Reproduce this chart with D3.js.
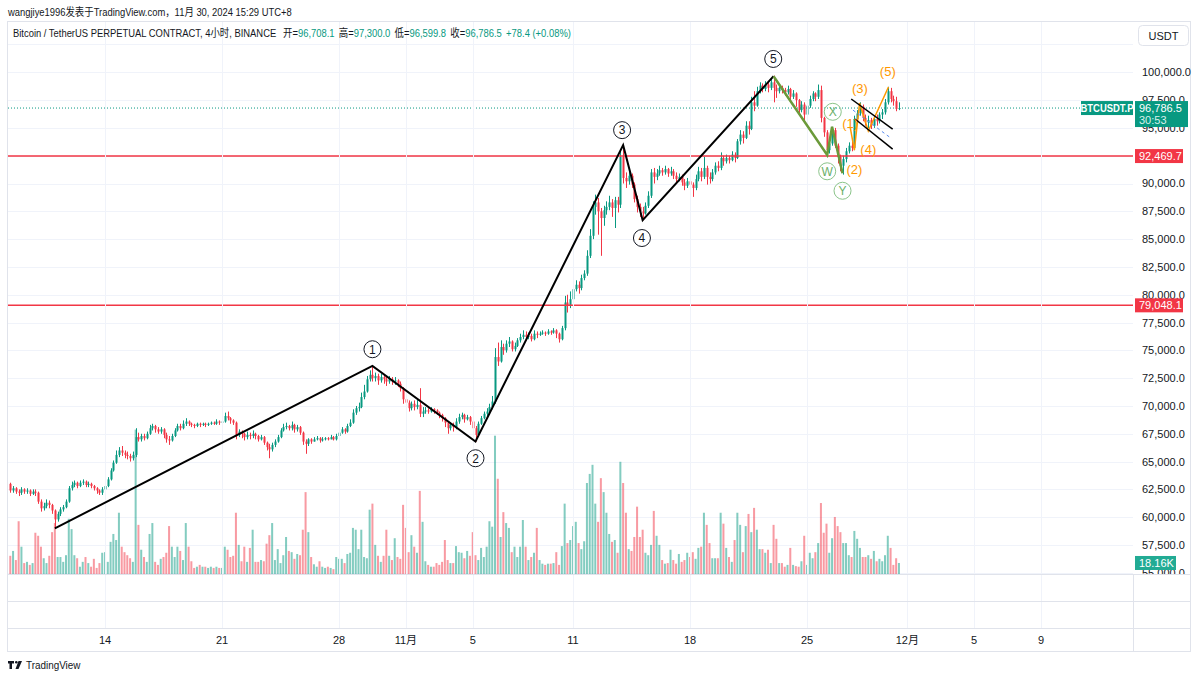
<!DOCTYPE html>
<html><head><meta charset="utf-8">
<script src="https://cdn.jsdelivr.net/npm/d3@7"></script>
<style>
html,body{margin:0;padding:0;background:#fff;}
svg{display:block;font-family:"Liberation Sans","Noto Sans CJK SC",Arial,sans-serif;}
</style></head>
<body><svg id="c" width="1200" height="679"></svg>
<script>
// ---------- DATA (prices in thousands USDT, 4h candles, UTC+8) ----------
const firstOpen = 63.0;
const closes = [
62.4,62.6,62.3,62.2,
62.5,62.3,62.4,62.1,62.3,62.2,
61.4,60.8,61.0,61.3,61.1,60.6,
59.8,60.3,60.7,60.9,61.4,62.6,
62.9,63.1,62.8,63.1,63.2,62.9,
63.0,62.8,62.6,62.4,62.2,62.5,
62.8,63.4,64.2,64.9,65.6,66.0,
65.8,65.6,65.5,65.3,65.6,67.2,
67.0,67.3,67.1,67.5,68.0,68.2,
67.9,67.7,67.9,67.4,67.0,66.9,
67.3,67.8,68.2,68.0,68.4,68.6,
68.4,68.3,68.2,68.4,68.3,68.4,
68.3,68.4,68.5,68.4,68.6,68.5,
68.6,69.1,68.9,68.7,68.5,67.4,
67.7,67.5,67.2,67.4,67.3,67.5,
67.3,67.0,67.2,66.7,66.3,66.1,
66.5,66.8,67.2,67.8,68.1,68.2,
68.0,68.3,67.9,68.1,67.6,66.8,
66.6,67.0,66.8,67.0,67.1,66.9,
67.0,67.1,67.0,67.2,67.0,67.3,
67.6,67.9,67.7,68.2,68.5,69.4,
69.8,69.9,70.8,71.3,72.4,72.8,
72.5,72.7,72.3,72.6,72.4,72.2,
72.4,72.2,72.3,72.0,71.6,70.6,
70.3,69.8,70.2,69.9,70.1,69.3,
69.5,69.6,69.5,69.7,69.6,69.4,
69.2,68.9,68.5,68.0,68.3,68.1,
68.6,69.0,69.2,68.8,69.0,68.6,
68.0,67.4,68.4,68.9,69.3,69.5,
69.9,70.4,74.4,74.0,75.3,75.0,
75.6,75.8,75.1,75.4,75.9,76.2,
76.4,76.2,76.3,76.0,76.5,76.4,
76.5,76.6,76.5,76.7,76.6,76.8,
76.5,76.0,77.0,79.3,79.0,79.6,
80.5,80.9,80.6,81.5,81.9,83.5,
85.3,87.9,88.3,87.5,86.9,87.6,
87.9,88.3,87.8,88.5,88.1,92.4,
90.5,90.2,90.7,89.9,88.6,87.9,
87.5,87.3,88.0,88.9,91.0,90.6,
90.9,91.2,91.0,91.3,90.9,91.1,
90.7,90.4,90.6,90.1,89.8,90.2,
89.9,89.6,90.4,91.1,90.6,91.4,
90.6,90.4,91.0,91.6,91.4,92.3,
92.0,92.3,92.1,92.6,92.3,93.8,
94.4,94.1,95.2,94.9,97.3,97.0,
98.3,98.8,98.5,98.9,98.6,99.1,
98.6,98.3,98.6,98.4,98.2,98.5,
97.8,98.1,97.5,96.6,97.1,96.2,
97.0,97.6,98.1,97.8,98.4,95.9,
94.6,93.0,93.6,94.8,93.4,92.4,
91.6,92.2,92.9,93.4,93.2,95.8,
96.3,96.9,95.9,95.5,95.7,95.2,
95.8,95.6,96.2,96.4,97.3,98.3,
97.6,97.4,96.7081,96.7865];
const highs = [
63.1,62.8,62.7,62.5,
62.7,62.6,62.6,62.5,62.5,62.5,
62.3,61.6,61.3,61.6,61.5,61.2,
60.7,60.5,60.9,61.1,61.6,62.8,
63.2,63.3,63.2,63.3,63.4,63.3,
63.2,63.1,62.9,62.7,62.5,62.7,
63.0,63.6,64.4,65.1,66.0,66.3,
66.4,66.0,65.9,65.7,65.9,68.0,
67.6,67.5,67.5,67.7,68.3,68.4,
68.3,68.1,68.1,68.0,67.6,67.3,
67.5,68.0,68.4,68.4,68.7,68.9,
68.7,68.5,68.4,68.5,68.5,68.5,
68.5,68.5,68.6,68.6,68.8,68.7,
68.9,69.4,69.5,69.0,68.8,68.6,
67.9,67.8,67.6,67.7,67.6,67.8,
67.6,67.4,67.4,67.3,66.8,66.6,
66.7,67.0,67.4,68.0,68.4,68.5,
68.3,68.6,68.4,68.3,68.2,67.7,
67.0,67.1,67.1,67.2,67.3,67.2,
67.2,67.2,67.2,67.4,67.3,67.5,
67.8,68.1,68.0,68.4,68.8,69.7,
70.0,70.3,71.2,71.9,72.7,73.2,
73.6,73.0,72.9,72.9,72.8,72.6,
72.7,72.6,72.6,72.4,72.2,71.7,
70.8,70.5,70.4,70.5,70.6,71.6,
69.9,69.9,69.8,69.9,69.8,69.7,
69.5,69.3,69.0,68.6,68.5,68.5,
68.9,69.3,69.4,69.3,69.2,69.1,
68.7,68.2,68.6,69.1,69.5,69.8,
70.2,70.9,75.2,75.7,75.9,75.6,
75.9,76.2,75.9,75.7,76.1,76.5,
76.8,76.7,76.6,76.5,76.8,76.7,
76.7,76.8,76.7,76.9,76.8,77.0,
76.9,76.6,77.2,79.9,80.0,80.3,
80.9,81.3,81.2,81.8,82.2,84.0,
85.9,88.4,89.0,88.7,87.8,88.0,
88.4,88.9,88.6,88.8,88.8,93.0,
93.5,91.0,91.1,90.9,90.1,88.9,
88.2,87.9,88.3,89.3,91.3,91.4,
91.3,91.6,91.4,91.6,91.4,91.5,
91.3,91.0,90.9,90.8,90.4,90.5,
90.4,90.1,90.8,91.5,91.4,92.4,
91.6,91.0,91.3,91.9,92.0,92.8,
92.5,92.6,92.5,92.9,92.8,94.0,
94.8,94.7,95.6,95.6,97.8,98.3,
98.7,99.1,99.0,99.2,99.1,99.4,
99.7,98.9,98.9,98.8,98.6,98.8,
98.6,98.4,98.2,97.6,97.4,97.3,
97.3,97.9,98.3,98.2,98.9,98.8,
96.0,94.8,93.9,95.1,95.0,93.6,
92.6,92.5,93.2,93.7,93.8,96.1,
96.6,97.3,97.1,96.2,96.1,95.9,
96.1,96.2,96.4,96.7,97.6,98.7,
98.6,97.9,97.8,97.3];
const lows = [
62.2,62.2,62.1,61.9,
62.0,62.1,62.1,61.9,62.0,61.9,
61.2,60.5,60.6,60.8,60.8,60.3,
59.0,59.6,60.1,60.5,60.8,61.3,
62.4,62.7,62.6,62.7,62.9,62.7,
62.7,62.6,62.4,62.1,62.0,62.0,
62.3,62.7,63.3,64.1,64.8,65.4,
65.5,65.3,65.2,65.0,65.1,65.4,
66.8,66.8,66.9,67.0,67.4,67.8,
67.6,67.5,67.5,67.1,66.7,66.5,
66.8,67.2,67.7,67.8,67.9,68.2,
68.2,68.1,68.0,68.1,68.1,68.2,
68.1,68.2,68.3,68.3,68.3,68.3,
68.3,68.5,68.7,68.4,68.3,67.0,
67.2,67.1,66.9,67.0,67.0,67.1,
67.0,66.8,66.9,66.5,66.0,65.3,
65.9,66.3,66.7,67.1,67.7,67.9,
67.8,67.8,67.6,67.7,67.4,66.5,
65.7,66.4,66.6,66.8,66.9,66.7,
66.8,66.9,66.9,67.0,66.9,66.9,
67.2,67.5,67.5,67.6,68.1,68.4,
69.2,69.5,69.8,70.6,71.2,72.2,
72.2,72.2,71.9,72.1,72.0,71.8,
72.0,71.9,71.9,71.7,71.3,70.2,
69.9,69.5,69.6,69.6,69.7,69.0,
69.0,69.3,69.3,69.4,69.3,69.2,
68.9,68.6,68.1,67.5,67.8,67.7,
67.9,68.4,68.8,68.5,68.7,68.3,
67.8,66.8,67.3,68.3,68.8,69.1,
69.2,69.7,70.2,73.6,73.9,74.6,
74.8,75.3,74.9,74.9,75.3,75.7,
76.0,75.9,76.0,75.8,75.9,76.1,
76.3,76.4,76.3,76.4,76.4,76.5,
76.1,75.7,75.9,76.8,78.4,78.8,
79.3,80.3,80.1,80.4,81.3,81.7,
83.3,85.0,87.2,85.4,83.5,86.2,
87.2,87.6,87.0,86.0,87.4,87.8,
90.0,89.6,89.9,89.6,88.3,87.4,
87.0,86.7,87.2,87.8,88.7,90.0,
90.3,90.7,90.7,90.8,90.6,90.7,
90.4,90.1,90.2,89.8,89.4,89.6,
89.5,88.8,89.4,90.2,90.2,90.4,
89.9,90.0,90.2,90.8,91.1,91.2,
91.6,91.8,91.8,92.0,91.9,92.2,
93.5,93.6,94.0,94.4,94.8,96.5,
96.9,98.1,98.2,98.3,98.2,98.4,
97.3,97.7,98.1,98.1,97.9,98.0,
97.5,97.6,96.9,96.2,96.4,95.7,
95.8,96.8,97.4,97.4,97.6,95.5,
94.2,92.6,92.7,93.4,93.2,91.8,
91.1,90.8,91.9,92.7,92.9,93.0,
95.5,96.1,95.6,95.2,95.0,94.9,
95.0,95.2,95.4,95.8,96.2,97.1,
97.3,97.0,96.5,96.5998];
// volume, thousands of BTC
const volumes = [
30,38,23,87,
45,18,20,15,18,68,
63,45,26,18,30,69,
84,28,28,20,31,91,
74,31,26,12,20,28,
18,12,25,10,18,35,
36,20,53,66,56,101,
45,36,31,26,20,238,
81,40,28,20,66,84,
20,15,25,28,35,79,
45,28,45,38,23,84,
45,21,10,12,15,12,
12,10,12,10,12,10,
10,45,40,28,30,101,
48,21,45,20,43,73,
20,20,23,21,50,64,
84,23,41,18,31,61,
38,36,25,33,31,73,
135,69,28,16,12,21,
12,10,12,10,8,28,
25,25,18,33,35,76,
73,41,73,28,26,106,
116,48,30,20,30,73,
30,23,59,28,25,114,
76,36,64,45,35,137,
86,21,15,12,12,18,
15,20,56,23,18,18,
46,36,35,26,38,30,
69,31,23,43,28,45,
87,78,228,157,61,102,
84,76,36,45,28,45,
89,45,23,28,35,76,
23,17,15,17,17,18,
36,15,46,116,51,56,
79,86,51,41,54,150,
165,180,116,86,158,135,
101,66,53,56,35,185,
150,101,41,38,61,111,
61,73,35,31,48,104,
63,48,23,17,18,40,
23,17,33,20,23,35,
28,36,25,43,45,101,
81,51,26,26,26,101,
83,43,28,20,56,101,
81,36,79,99,69,109,
73,41,41,35,40,18,
81,58,18,18,12,15,
43,15,13,12,21,63,
15,35,26,36,51,117,
68,83,35,59,94,79,
69,51,51,31,28,71,
58,43,28,28,31,25,
38,21,25,21,31,63,
43,15,26,18.16];

const priceTicks = [55000,57500,60000,62500,65000,67500,70000,72500,75000,77500,80000,82500,85000,87500,90000,92500,95000,97500,100000,102500];
const timeTicks = ["2024-10-14","2024-10-21","2024-10-28","2024-11-01","2024-11-05","2024-11-11","2024-11-18","2024-11-25","2024-12-01","2024-12-05","2024-12-09"];
const timeTickLabels = ["14","21","28","11月","5","11","18","25","12月","5","9"];
const hLevels = [92469.7, 79048.1];
const lastPrice = 96786.5;
// Elliott wave annotations (time UTC+8, price)
const mainWave = [["2024-10-11T00:00",59000],["2024-10-30T00:00",73600],["2024-11-05T04:00",66800],["2024-11-14T00:00",93450],["2024-11-15T04:00",86700],["2024-11-23T00:00",99650]];
const mainLabels = [["1","2024-10-30T00:00",75100],["2","2024-11-05T04:00",65300],["3","2024-11-13T22:30",94800],["4","2024-11-15T03:00",85100],["5","2024-11-22T23:30",101200]];
const wxyWave = [["2024-11-23T00:00",99650],["2024-11-26T05:00",92560],["2024-11-26T12:00",95110],["2024-11-27T03:00",90920]];
const wxyLabels = [["W","2024-11-26T05:00",91100],["X","2024-11-26T13:00",96450],["Y","2024-11-27T03:00",89350]];
const subWave = [["2024-11-27T14:00",95080],["2024-11-27T20:00",93010],["2024-11-28T03:30",97240],["2024-11-28T16:00",94720],["2024-11-29T21:00",98680]];
const subLabels = [["(1)","2024-11-27T14:00",95440],["(2)","2024-11-27T20:00",91300],["(3)","2024-11-28T04:00",98590],["(4)","2024-11-28T16:00",93100],["(5)","2024-11-29T20:00",100120]];
const channelUpper = [["2024-11-27T15:30",97600],["2024-11-30T03:00",94900]];
const channelLower = [["2024-11-27T21:00",95800],["2024-11-30T03:00",93100]];
const channelMid = [["2024-11-27T18:00",96600],["2024-11-29T22:00",94200]];

// ---------- BUILD ----------
const T0 = Date.UTC(2024,9,8,8), H4 = 4*3600e3;
const pd = s => new Date(s + (s.length===10?"T00:00":"") + "Z");
const candles = closes.map((c,i)=>({
  t:new Date(T0+i*H4), o:(i?closes[i-1]:firstOpen)*1000, c:c*1000, h:highs[i]*1000, l:lows[i]*1000, v:volumes[i]
}));

const L=8, R=1133, TOP=22, BOT=574;
const svg = d3.select("#c");
const x = d3.scaleUtc().domain([pd("2024-10-14"), pd("2024-11-25")]).range([105, 807]);
const y = d3.scaleLinear().domain([57500,100000]).range([545,72.3]);
const yv = d3.scaleLinear().domain([0,910]).range([BOT,TOP]);
const UP="#089981", DN="#f23645", TXT="#131722", GRID="#f0f3fa", BORDER="#e0e3eb";
const SX = 0.856; // horizontal condense of header fonts

// header
svg.append("g").attr("transform",`translate(8,16) scale(${SX},1)`).append("text").attr("font-size",11).attr("fill",TXT)
  .text("wangjiye1996发表于TradingView.com，11月 30, 2024 15:29 UTC+8");

// frame
svg.append("rect").attr("x",7.5).attr("y",21.5).attr("width",1183).attr("height",630).attr("fill","none").attr("stroke",BORDER);
svg.append("clipPath").attr("id","plot").append("rect").attr("x",L).attr("y",TOP).attr("width",R-L).attr("height",BOT-TOP);
svg.append("clipPath").attr("id","axis").append("rect").attr("x",R).attr("y",TOP).attr("width",60).attr("height",BOT-TOP);

// grid
const g = svg.append("g").attr("clip-path","url(#plot)");
g.selectAll(".hg").data(priceTicks).join("line").attr("x1",L).attr("x2",R)
  .attr("y1",d=>Math.round(y(d))+0.5).attr("y2",d=>Math.round(y(d))+0.5).attr("stroke",GRID);
const tt = timeTicks.map(pd);
svg.selectAll(".vg").data(tt).join("line").attr("x1",d=>Math.round(x(d))+0.5).attr("x2",d=>Math.round(x(d))+0.5)
  .attr("y1",TOP).attr("y2",628).attr("stroke",GRID);

// volume
const bw = Math.max(1, (x(new Date(T0+H4))-x(new Date(T0)))*0.72);
g.selectAll(".vol").data(candles).join("rect")
  .attr("x",d=>x(d.t)-bw/2).attr("width",bw)
  .attr("y",d=>yv(d.v)).attr("height",d=>BOT-yv(d.v))
  .attr("fill",d=>d.c>=d.o?"rgba(8,153,129,0.5)":"rgba(242,54,69,0.5)");

// last price dotted
g.append("line").attr("x1",L).attr("x2",R).attr("y1",y(lastPrice)).attr("y2",y(lastPrice))
  .attr("stroke",UP).attr("stroke-dasharray","1,2");

// candles
const cg = g.append("g");
cg.selectAll(".wick").data(candles).join("line")
  .attr("x1",d=>Math.round(x(d.t))+0.5).attr("x2",d=>Math.round(x(d.t))+0.5)
  .attr("y1",d=>y(Math.max(d.h,d.o,d.c))).attr("y2",d=>y(Math.min(d.l,d.o,d.c)))
  .attr("stroke",d=>d.c>=d.o?UP:DN).attr("stroke-width",1);
cg.selectAll(".body").data(candles).join("rect")
  .attr("x",d=>Math.round(x(d.t))+0.5-bw/2).attr("width",bw)
  .attr("y",d=>y(Math.max(d.o,d.c))).attr("height",d=>Math.max(1,Math.abs(y(d.o)-y(d.c))))
  .attr("fill",d=>d.c>=d.o?UP:DN);

// horizontal levels
g.selectAll(".lvl").data(hLevels).join("line").attr("x1",L).attr("x2",R)
  .attr("y1",d=>y(d)).attr("y2",d=>y(d)).attr("stroke",DN).attr("stroke-width",1.5);

// annotations
const line = d3.line().x(d=>x(pd(d[0]))).y(d=>y(d[1]));
const ag = svg.append("g").attr("clip-path","url(#plot)");
ag.append("path").attr("d",line(mainWave)).attr("fill","none").attr("stroke","#000").attr("stroke-width",2);
ag.append("path").attr("d",line(wxyWave)).attr("fill","none").attr("stroke","#6b9a3a").attr("stroke-width",2.5);
ag.append("path").attr("d",line(subWave)).attr("fill","none").attr("stroke","#ff9800").attr("stroke-width",1.5);
ag.append("path").attr("d",line(channelUpper)).attr("fill","none").attr("stroke","#000").attr("stroke-width",1.5);
ag.append("path").attr("d",line(channelLower)).attr("fill","none").attr("stroke","#000").attr("stroke-width",1.5);
ag.append("path").attr("d",line(channelMid)).attr("fill","none").attr("stroke","#5b8def").attr("stroke-width",1).attr("stroke-dasharray","3,3");

function circLabel(sel, d, stroke, fill, color){
  const gg = sel.append("g").attr("transform",`translate(${x(pd(d[1]))},${y(d[2])})`);
  gg.append("circle").attr("r",8.5).attr("fill",fill).attr("stroke",stroke).attr("stroke-width",1);
  gg.append("text").attr("text-anchor","middle").attr("dy","0.36em").attr("font-size",12).attr("fill",color).text(d[0]);
}
mainLabels.forEach(d=>circLabel(ag,d,"#131722","#fff","#131722"));
wxyLabels.forEach(d=>circLabel(ag,d,"#8bc48a","none","#6aaf69"));
ag.selectAll(".sub").data(subLabels).join("text")
  .attr("x",d=>x(pd(d[1]))).attr("y",d=>y(d[2])).attr("dy","0.36em").attr("text-anchor","middle")
  .attr("font-size",13).attr("fill","#ff9800").text(d=>d[0]);

// legend
const lg = svg.append("g").attr("transform",`translate(13,37) scale(${SX},1)`).append("text").attr("font-size",11).attr("fill",TXT);
lg.append("tspan").text("Bitcoin / TetherUS PERPETUAL CONTRACT, 4小时, BINANCE ");
const last = candles[candles.length-1];
const fmt = d3.format(",.1f");
[["开",last.o],["高",last.h],["低",last.l],["收",last.c]].forEach(([k,v])=>{
  lg.append("tspan").attr("dx",5).text(k+"=");
  lg.append("tspan").attr("fill",UP).text(fmt(v));
});
lg.append("tspan").attr("dx",5).attr("fill",UP).text("+78.4 (+0.08%)");

// right axis
svg.append("line").attr("x1",R+0.5).attr("x2",R+0.5).attr("y1",BOT).attr("y2",651).attr("stroke",BORDER);
const hidden = v => hLevels.some(h=>Math.abs(y(h)-y(v))<6);
svg.append("g").attr("clip-path","url(#axis)").selectAll(".pl").data(priceTicks.filter(d=>d<=100000 && !hidden(d))).join("text")
  .attr("x",1142).attr("y",d=>y(d)).attr("dy","0.36em").attr("font-size",11).attr("fill",TXT)
  .text(d=>fmt(d));
// USDT button
svg.append("rect").attr("x",1138.5).attr("y",25.5).attr("width",50).attr("height",20).attr("rx",4).attr("fill","#fff").attr("stroke",BORDER);
svg.append("text").attr("x",1163.5).attr("y",36).attr("dy","0.36em").attr("text-anchor","middle").attr("font-size",11).attr("fill",TXT).text("USDT");
// level labels
hLevels.forEach(v=>{
  svg.append("rect").attr("x",1135).attr("y",y(v)-7).attr("width",48).attr("height",14).attr("fill",DN);
  svg.append("text").attr("x",1139).attr("y",y(v)).attr("dy","0.36em").attr("font-size",11).attr("fill","#fff").text(fmt(v));
});
// last price label
const yl = y(lastPrice);
svg.append("rect").attr("x",1135).attr("y",yl-7).attr("width",53).attr("height",26).attr("fill",UP);
svg.append("text").attr("x",1139).attr("y",yl).attr("dy","0.36em").attr("font-size",11).attr("fill","#fff").text(fmt(lastPrice));
svg.append("text").attr("x",1139).attr("y",yl+12).attr("dy","0.36em").attr("font-size",11).attr("fill","#d8f0ea").text("30:53");
svg.append("rect").attr("x",1081).attr("y",yl-7).attr("width",52).attr("height",14).attr("fill",UP);
svg.append("g").attr("transform",`translate(1107,${yl}) scale(0.9,1)`).append("text").attr("dy","0.36em").attr("text-anchor","middle")
  .attr("font-size",10.5).attr("font-weight","bold").attr("fill","#fff").text("BTCUSDT.P");
// volume label
const yvl = yv(volumes[volumes.length-1]);
svg.append("rect").attr("x",1135).attr("y",yvl-7).attr("width",41).attr("height",14).attr("fill","#22ab94");
svg.append("text").attr("x",1139).attr("y",yvl).attr("dy","0.36em").attr("font-size",11).attr("fill","#fff").text(volumes[volumes.length-1]+"K");

// lower panes
[574.5,601.5,628.5].forEach(v=>svg.append("line").attr("x1",8).attr("x2",1190).attr("y1",v).attr("y2",v).attr("stroke",BORDER));
svg.selectAll(".tl").data(tt).join("text").attr("x",d=>x(d)).attr("y",640).attr("dy","0.36em")
  .attr("text-anchor","middle").attr("font-size",11).attr("fill",TXT).text((d,i)=>timeTickLabels[i]);

// footer logo
const fl = svg.append("g").attr("transform","translate(8,661)");
fl.append("path").attr("d","M0 0h6v2.5h-2v5.5h-2.5v-5.5h-1.5z").attr("fill",TXT);
fl.append("circle").attr("cx",8.3).attr("cy",1.3).attr("r",1.3).attr("fill",TXT);
fl.append("path").attr("d","M10.5 0h3.5l-3.5 8h-3z").attr("fill",TXT);
svg.append("g").attr("transform",`translate(26,665) scale(0.9,1)`).append("text").attr("dy","0.36em").attr("font-size",11).attr("fill",TXT).text("TradingView");
</script></body></html>
